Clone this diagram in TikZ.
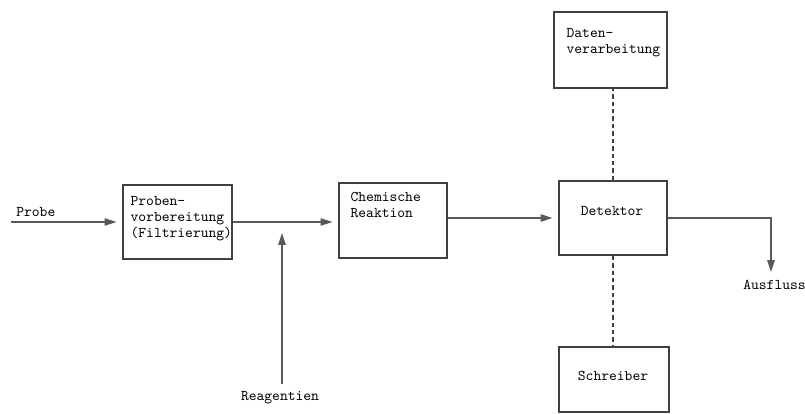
\documentclass[tikz,border=0pt]{standalone}
\usetikzlibrary{arrows.meta,positioning}
\newcommand{\pxu}{0.673pt}
\tikzset{
  box/.style={draw=black!75, line width=0.9pt, inner sep=0pt},
  txt/.style={inner sep=0pt, align=left, text=black},
  flow/.style={draw=black!65, line width=0.9pt, -{Triangle[length=8pt,width=5pt]}},
  link/.style={draw=black!75, line width=0.9pt, dash pattern=on 3pt off 2pt}
}
\begin{document}
\begin{tikzpicture}[x=\pxu, y=-\pxu, font=\ttfamily\fontsize{10pt}{10.8pt}\selectfont]
    \useasboundingbox[fill=white] (0,0) rectangle (805,414);
    % boxes
    \node[box, minimum width=109*\pxu, minimum height=74*\pxu] (prep) at (177.5,222) {};
    \node[box, minimum width=108*\pxu, minimum height=75*\pxu] (chem) at (393,220.5) {};
    \node[box, minimum width=108*\pxu, minimum height=74*\pxu] (det) at (613,218) {};
    \node[box, minimum width=113*\pxu, minimum height=76*\pxu] (data) at (610.5,50) {};
    \node[box, minimum width=110*\pxu, minimum height=65*\pxu] (schr) at (614,379.5) {};
    % box texts
    \node[txt, anchor=north west] (preptxt) at ([shift={(8,12)}]prep.north west) {Proben-\\vorbereitung\\(Filtrierung)};
    \node[txt, anchor=north west] (chemtxt) at ([shift={(12,9.5)}]chem.north west) {Chemische\\Reaktion};
    \node[txt, anchor=north west] (datatxt) at ([shift={(13,16.5)}]data.north west) {Daten-\\verarbeitung};
    \node[txt] (dettxt) at (612,211) {Detektor};
    \node[txt] (schrtxt) at (613,376) {Schreiber};
    % inputs and outputs
    \coordinate (probein) at (11,222);
    \node[txt, anchor=west] (probetxt) at (16,212) {Probe};
    \node[txt] (reag) at (280,398) {Reagentien};
    \coordinate (mix) at (282,233);
    \coordinate (out) at (771,272);
    \node[txt, anchor=west] (outtxt) at (743,285) {Ausfluss};
    % connectors
    \draw[flow, shorten >=4pt] (probein) -- (prep.west |- probein);
    \draw[flow, shorten >=4pt] (prep.east) -- (prep.east -| chem.west);
    \draw[flow, shorten <=5pt] (reag.north -| mix) -- (mix);
    \draw[flow, shorten >=4pt] (chem.east |- det.west) -- (det.west);
    \draw[flow] (det.east) -| (out);
    \draw[link] (det.north) -- (det.north |- data.south);
    \draw[link] (det.south) -- (det.south |- schr.north);
\end{tikzpicture}
\end{document}
